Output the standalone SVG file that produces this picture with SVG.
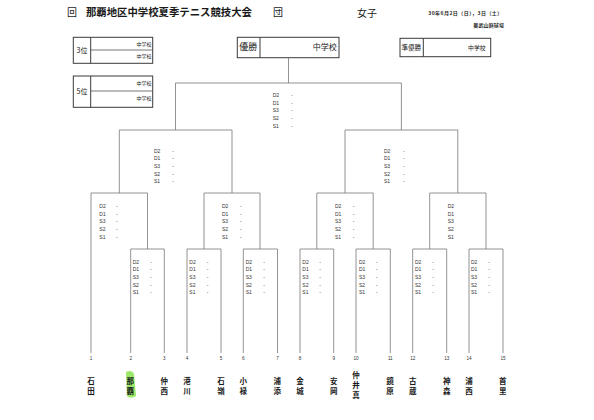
<svg xmlns="http://www.w3.org/2000/svg" width="594" height="420" viewBox="0 0 594 420">
<style>
.jp{font-family:"Noto Sans CJK JP","Noto Sans",sans-serif;fill:#1a1a1a}
.sc{font-family:"Liberation Sans",Arial,sans-serif;font-size:5px;fill:#333}
.num{font-family:"Liberation Sans",Arial,sans-serif;font-size:4.6px;fill:#333;text-anchor:middle}
.nm{font-family:"Noto Sans CJK JP",sans-serif;font-size:7.5px;fill:#1a1a1a;text-anchor:middle;font-weight:bold}
.box{fill:#fff;stroke:#3a3a3a;stroke-width:1}
.ln{fill:none;stroke:#777;stroke-width:0.8}
.end{text-anchor:end}
</style>
<rect width="594" height="420" fill="#fff"/>
<g id="header">
<text class="jp" x="67" y="15.6" font-size="10">回</text>
<text class="jp" x="86" y="15.6" font-size="10.4" font-weight="bold" textLength="166">那覇地区中学校夏季テニス競技大会</text>
<text class="jp" x="273" y="15.6" font-size="10">団</text>
<text class="jp" x="357" y="16.5" font-size="10">女子</text>
<text class="jp" x="428.3" y="14.6" font-size="5" font-weight="bold" textLength="74">30年6月2日（日），3日（土）</text>
<text class="jp" x="473.3" y="26.9" font-size="5" font-weight="bold" textLength="30.7">奥武山庭球場</text>
</g>
<g id="third">
<rect class="box" x="73.3" y="37.3" width="79.4" height="26"/>
<line x1="90.7" y1="37.3" x2="90.7" y2="63.3" stroke="#3a3a3a" stroke-width="1"/>
<line x1="90.7" y1="50" x2="152.7" y2="50" stroke="#3a3a3a" stroke-width="0.7"/>
<text class="jp" x="76.5" y="52.7" font-size="7">3位</text>
<text class="jp end" x="151.5" y="45.9" font-size="5">中学校</text>
<text class="jp end" x="151.5" y="57.9" font-size="5">中学校</text>
</g>
<g id="fifth">
<rect class="box" x="73.3" y="76" width="79.4" height="31.3"/>
<line x1="90.7" y1="76" x2="90.7" y2="107.3" stroke="#3a3a3a" stroke-width="1"/>
<line x1="90.7" y1="91" x2="152.7" y2="91" stroke="#3a3a3a" stroke-width="0.7"/>
<text class="jp" x="76.5" y="94.3" font-size="7">5位</text>
<text class="jp end" x="151.5" y="85.2" font-size="5">中学校</text>
<text class="jp end" x="151.5" y="100.2" font-size="5">中学校</text>
</g>
<g id="champion">
<rect class="box" x="237.3" y="37.3" width="101.7" height="20.4"/>
<line x1="260" y1="37.3" x2="260" y2="57.7" stroke="#3a3a3a" stroke-width="1"/>
<text class="jp" x="239.2" y="50.2" font-size="9">優勝</text>
<text class="jp end" x="336.7" y="49.9" font-size="8">中学校</text>
</g>
<g id="runnerup">
<rect class="box" x="400" y="38.3" width="90.7" height="18.4"/>
<line x1="423.3" y1="38.3" x2="423.3" y2="56.7" stroke="#3a3a3a" stroke-width="1"/>
<text class="jp" x="401.6" y="50" font-size="6.5">準優勝</text>
<text class="jp end" x="485.5" y="49.6" font-size="5.8">中学校</text>
</g>
<g id="connectors" class="ln">
<path d="M288.5,57.7 V83 M175.5,130 V83 H401.4 V130"/>
<path d="M119.3,193 V130 H232 V193"/>
<path d="M345,193 V130 H457.8 V193"/>
<path d="M91,353 V193 H147.5 V249"/>
<path d="M204,249 V193 H260 V249"/>
<path d="M316.8,249 V193 H373.2 V249"/>
<path d="M429.7,249 V193 H486 V249"/>
<path d="M130.7,353 V249 H164.3 V353"/>
<path d="M187,353 V249 H221 V353"/>
<path d="M243.3,353 V249 H277.5 V353"/>
<path d="M300,353 V249 H333.7 V353"/>
<path d="M356,353 V249 H390.3 V353"/>
<path d="M412.7,353 V249 H446.7 V353"/>
<path d="M469,353 V249 H503 V353"/>
</g>
<g id="score-final"><text class="sc" x="272.7" y="96.8">D2</text><text class="sc" x="291" y="96.8">-</text><text class="sc" x="272.7" y="104.5">D1</text><text class="sc" x="291" y="104.5">-</text><text class="sc" x="272.7" y="112.1">S3</text><text class="sc" x="291" y="112.1">-</text><text class="sc" x="272.7" y="119.8">S2</text><text class="sc" x="291" y="119.8">-</text><text class="sc" x="272.7" y="127.5">S1</text><text class="sc" x="291" y="127.5">-</text></g>
<g id="score-sf1"><text class="sc" x="154" y="152.5">D2</text><text class="sc" x="172.3" y="152.5">-</text><text class="sc" x="154" y="160.2">D1</text><text class="sc" x="172.3" y="160.2">-</text><text class="sc" x="154" y="167.8">S3</text><text class="sc" x="172.3" y="167.8">-</text><text class="sc" x="154" y="175.5">S2</text><text class="sc" x="172.3" y="175.5">-</text><text class="sc" x="154" y="183.1">S1</text><text class="sc" x="172.3" y="183.1">-</text></g>
<g id="score-sf2"><text class="sc" x="384" y="152.5">D2</text><text class="sc" x="403" y="152.5">-</text><text class="sc" x="384" y="160.2">D1</text><text class="sc" x="403" y="160.2">-</text><text class="sc" x="384" y="167.8">S3</text><text class="sc" x="403" y="167.8">-</text><text class="sc" x="384" y="175.5">S2</text><text class="sc" x="403" y="175.5">-</text><text class="sc" x="384" y="183.1">S1</text><text class="sc" x="403" y="183.1">-</text></g>
<g id="score-qf1"><text class="sc" x="99.3" y="207.8">D2</text><text class="sc" x="116" y="207.8">-</text><text class="sc" x="99.3" y="215.5">D1</text><text class="sc" x="116" y="215.5">-</text><text class="sc" x="99.3" y="223.1">S3</text><text class="sc" x="116" y="223.1">-</text><text class="sc" x="99.3" y="230.8">S2</text><text class="sc" x="116" y="230.8">-</text><text class="sc" x="99.3" y="238.5">S1</text><text class="sc" x="116" y="238.5">-</text></g>
<g id="score-qf2"><text class="sc" x="222" y="207.8">D2</text><text class="sc" x="240" y="207.8">-</text><text class="sc" x="222" y="215.5">D1</text><text class="sc" x="240" y="215.5">-</text><text class="sc" x="222" y="223.1">S3</text><text class="sc" x="240" y="223.1">-</text><text class="sc" x="222" y="230.8">S2</text><text class="sc" x="240" y="230.8">-</text><text class="sc" x="222" y="238.5">S1</text><text class="sc" x="240" y="238.5">-</text></g>
<g id="score-qf3"><text class="sc" x="335" y="207.8">D2</text><text class="sc" x="352.7" y="207.8">-</text><text class="sc" x="335" y="215.5">D1</text><text class="sc" x="352.7" y="215.5">-</text><text class="sc" x="335" y="223.1">S3</text><text class="sc" x="352.7" y="223.1">-</text><text class="sc" x="335" y="230.8">S2</text><text class="sc" x="352.7" y="230.8">-</text><text class="sc" x="335" y="238.5">S1</text><text class="sc" x="352.7" y="238.5">-</text></g>
<g id="score-qf4"><text class="sc" x="447.7" y="207.8">D2</text><text class="sc" x="447.7" y="215.5">D1</text><text class="sc" x="447.7" y="223.1">S3</text><text class="sc" x="447.7" y="230.8">S2</text><text class="sc" x="447.7" y="238.5">S1</text></g>
<g id="score-r1a"><text class="sc" x="132.7" y="263.5">D2</text><text class="sc" x="150" y="263.5">-</text><text class="sc" x="132.7" y="271.1">D1</text><text class="sc" x="150" y="271.1">-</text><text class="sc" x="132.7" y="278.8">S3</text><text class="sc" x="150" y="278.8">-</text><text class="sc" x="132.7" y="286.5">S2</text><text class="sc" x="150" y="286.5">-</text><text class="sc" x="132.7" y="294.1">S1</text><text class="sc" x="150" y="294.1">-</text></g>
<g id="score-r1b"><text class="sc" x="189.3" y="263.5">D2</text><text class="sc" x="206.7" y="263.5">-</text><text class="sc" x="189.3" y="271.1">D1</text><text class="sc" x="206.7" y="271.1">-</text><text class="sc" x="189.3" y="278.8">S3</text><text class="sc" x="206.7" y="278.8">-</text><text class="sc" x="189.3" y="286.5">S2</text><text class="sc" x="206.7" y="286.5">-</text><text class="sc" x="189.3" y="294.1">S1</text><text class="sc" x="206.7" y="294.1">-</text></g>
<g id="score-r1c"><text class="sc" x="245.7" y="263.5">D2</text><text class="sc" x="263.3" y="263.5">-</text><text class="sc" x="245.7" y="271.1">D1</text><text class="sc" x="263.3" y="271.1">-</text><text class="sc" x="245.7" y="278.8">S3</text><text class="sc" x="263.3" y="278.8">-</text><text class="sc" x="245.7" y="286.5">S2</text><text class="sc" x="263.3" y="286.5">-</text><text class="sc" x="245.7" y="294.1">S1</text><text class="sc" x="263.3" y="294.1">-</text></g>
<g id="score-r1d"><text class="sc" x="302.3" y="263.5">D2</text><text class="sc" x="319.3" y="263.5">-</text><text class="sc" x="302.3" y="271.1">D1</text><text class="sc" x="319.3" y="271.1">-</text><text class="sc" x="302.3" y="278.8">S3</text><text class="sc" x="319.3" y="278.8">-</text><text class="sc" x="302.3" y="286.5">S2</text><text class="sc" x="319.3" y="286.5">-</text><text class="sc" x="302.3" y="294.1">S1</text><text class="sc" x="319.3" y="294.1">-</text></g>
<g id="score-r1e"><text class="sc" x="359" y="263.5">D2</text><text class="sc" x="376" y="263.5">-</text><text class="sc" x="359" y="271.1">D1</text><text class="sc" x="376" y="271.1">-</text><text class="sc" x="359" y="278.8">S3</text><text class="sc" x="376" y="278.8">-</text><text class="sc" x="359" y="286.5">S2</text><text class="sc" x="376" y="286.5">-</text><text class="sc" x="359" y="294.1">S1</text><text class="sc" x="376" y="294.1">-</text></g>
<g id="score-r1f"><text class="sc" x="415" y="263.5">D2</text><text class="sc" x="432.3" y="263.5">-</text><text class="sc" x="415" y="271.1">D1</text><text class="sc" x="432.3" y="271.1">-</text><text class="sc" x="415" y="278.8">S3</text><text class="sc" x="432.3" y="278.8">-</text><text class="sc" x="415" y="286.5">S2</text><text class="sc" x="432.3" y="286.5">-</text><text class="sc" x="415" y="294.1">S1</text><text class="sc" x="432.3" y="294.1">-</text></g>
<g id="score-r1g"><text class="sc" x="471" y="263.5">D2</text><text class="sc" x="488.3" y="263.5">-</text><text class="sc" x="471" y="271.1">D1</text><text class="sc" x="488.3" y="271.1">-</text><text class="sc" x="471" y="278.8">S3</text><text class="sc" x="488.3" y="278.8">-</text><text class="sc" x="471" y="286.5">S2</text><text class="sc" x="488.3" y="286.5">-</text><text class="sc" x="471" y="294.1">S1</text><text class="sc" x="488.3" y="294.1">-</text></g>
<path id="highlight" d="M126,372 C129,370 133,371 134,374 L136,396 C133,398 129,398 127,396 Z" fill="#7be03a" opacity="0.75"/>
<g id="team1"><text class="num" x="91" y="359.6">1</text><text class="nm" x="91" y="383.5">石</text><text class="nm" x="91" y="393.5">田</text></g>
<g id="team2"><text class="num" x="130.7" y="359.6">2</text><text class="nm" x="130.3" y="383.5">那</text><text class="nm" x="130.3" y="393.5">覇</text></g>
<g id="team3"><text class="num" x="164.3" y="359.6">3</text><text class="nm" x="164.3" y="383.5">仲</text><text class="nm" x="164.3" y="393.5">西</text></g>
<g id="team4"><text class="num" x="187" y="359.6">4</text><text class="nm" x="187" y="383.5">港</text><text class="nm" x="187" y="393.5">川</text></g>
<g id="team5"><text class="num" x="221" y="359.6">5</text><text class="nm" x="221" y="383.5">石</text><text class="nm" x="221" y="393.5">嶺</text></g>
<g id="team6"><text class="num" x="243.3" y="359.6">6</text><text class="nm" x="243.3" y="383.5">小</text><text class="nm" x="243.3" y="393.5">禄</text></g>
<g id="team7"><text class="num" x="277.5" y="359.6">7</text><text class="nm" x="277.3" y="383.5">浦</text><text class="nm" x="277.3" y="393.5">添</text></g>
<g id="team8"><text class="num" x="300" y="359.6">8</text><text class="nm" x="300" y="383.5">金</text><text class="nm" x="300" y="393.5">城</text></g>
<g id="team9"><text class="num" x="333.7" y="359.6">9</text><text class="nm" x="333.7" y="383.5">安</text><text class="nm" x="333.7" y="393.5">岡</text></g>
<g id="team10"><text class="num" x="356" y="359.6">10</text><text class="nm" x="356" y="377.6">仲</text><text class="nm" x="356" y="387.6">井</text><text class="nm" x="356" y="397.6">真</text></g>
<g id="team11"><text class="num" x="390.3" y="359.6">11</text><text class="nm" x="390" y="383.5">鏡</text><text class="nm" x="390" y="393.5">原</text></g>
<g id="team12"><text class="num" x="412.7" y="359.6">12</text><text class="nm" x="412.7" y="383.5">古</text><text class="nm" x="412.7" y="393.5">蔵</text></g>
<g id="team13"><text class="num" x="446.7" y="359.6">13</text><text class="nm" x="446.7" y="383.5">神</text><text class="nm" x="446.7" y="393.5">森</text></g>
<g id="team14"><text class="num" x="469" y="359.6">14</text><text class="nm" x="469" y="383.5">浦</text><text class="nm" x="469" y="393.5">西</text></g>
<g id="team15"><text class="num" x="503" y="359.6">15</text><text class="nm" x="502.7" y="383.5">首</text><text class="nm" x="502.7" y="393.5">里</text></g>
</svg>
